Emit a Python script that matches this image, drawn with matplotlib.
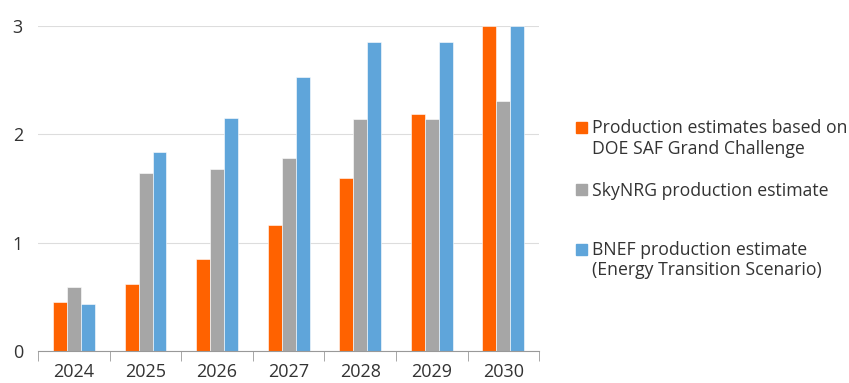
import matplotlib
matplotlib.use("Agg")
import matplotlib.pyplot as plt
import numpy as np
from matplotlib.patches import Rectangle

plt.rcParams['font.family'] = ['Open Sans', 'DejaVu Sans']

years = ["2024", "2025", "2026", "2027", "2028", "2029", "2030"]
doe = [0.45, 0.62, 0.85, 1.16, 1.60, 2.19, 3.0]
skynrg = [0.59, 1.64, 1.68, 1.78, 2.14, 2.14, 2.31]
bnef = [0.43, 1.84, 2.15, 2.53, 2.85, 2.85, 3.0]

labels = ["Production estimates based on\nDOE SAF Grand Challenge",
          "SkyNRG production estimate",
          "BNEF production estimate\n(Energy Transition Scenario)"]
colors = ["#FF6200", "#A6A6A6", "#5FA5DA"]

fig = plt.figure(figsize=(8.49, 3.83), dpi=100)
ax = fig.add_axes([0.045, 0.0836, 0.59, 0.8484])

x = np.arange(len(years))
w = 0.195
for i, (vals, c) in enumerate(zip([doe, skynrg, bnef], colors)):
    ax.bar(x + (i - 1) * w, vals, w, color=c, edgecolor="white", linewidth=0.4, zorder=2)

ax.set_ylim(0, 3)
ax.set_xlim(-0.5, len(years) - 0.5)
ax.set_yticks([0, 1, 2, 3])
ax.yaxis.grid(True, color="#DDDDDD", linewidth=0.8, zorder=0)
ax.tick_params(axis="y", length=0, labelsize=13, pad=11, labelcolor="#333333")
ax.set_xticks(x)
ax.set_xticklabels(years)
ax.set_xticks(np.arange(-0.5, len(years)), minor=True)
ax.tick_params(axis="x", which="major", length=0, labelsize=13, pad=9, labelcolor="#333333")
ax.tick_params(axis="x", which="minor", length=7, color="#999999", direction="out")
for s in ["top", "right", "left"]:
    ax.spines[s].set_visible(False)
ax.spines["bottom"].set_color("#999999")

# legend drawn by hand (uneven spacing in the original)
legend_y = [0.652, 0.49, 0.335]
for lab, c, ly in zip(labels, colors, legend_y):
    fig.patches.append(Rectangle((0.678, ly), 0.013, 0.029, transform=fig.transFigure,
                                 color=c, figure=fig))
    fig.text(0.697, ly + 0.036, lab, fontsize=12.7, va="top", ha="left",
             color="#333333", linespacing=1.15)

fig.savefig("out.png", dpi=100)
